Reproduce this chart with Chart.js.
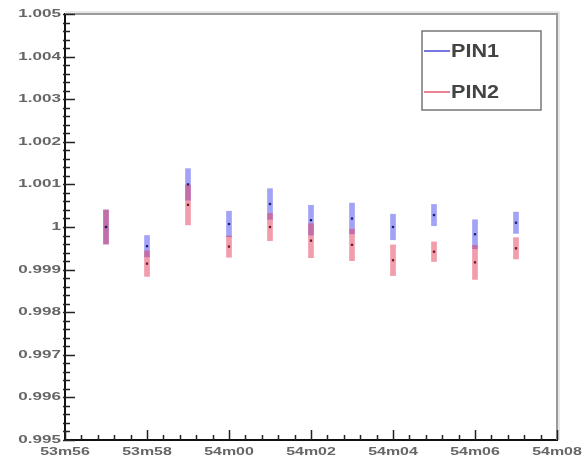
<!DOCTYPE html>
<html>
<head>
<meta charset="utf-8">
<script src="https://cdn.jsdelivr.net/npm/chart.js@4.4.0/dist/chart.umd.min.js"></script>
<style>
html, body { margin: 0; padding: 0; background: #fff; }
#wrap { width: 584px; height: 463px; }
</style>
</head>
<body>
<div id="wrap"><canvas id="myChart" width="584" height="463"></canvas></div>
<script>
'use strict';

// time axis in seconds counted from 53m00
let seconds = [57, 58, 59, 60, 61, 62, 63, 64, 65, 66, 67];
let pin1 = [1.0000, 0.99955, 1.0010, 1.00007, 1.00054, 1.00016, 1.0002, 1.0000, 1.00028, 0.99983, 1.0001];
let pin1Err = [0.0004, 0.00025, 0.00037, 0.0003, 0.00036, 0.00035, 0.00036, 0.0003, 0.00025, 0.00034, 0.00025];
let pin2 = [1.0000, 0.99914, 1.00052, 0.99954, 1.0000, 0.99968, 0.99958, 0.99922, 0.99942, 0.99917, 0.9995];
let pin2Err = [0.0004, 0.0003, 0.00047, 0.00025, 0.00032, 0.0004, 0.00037, 0.00036, 0.00023, 0.0004, 0.00025];
let yTicks = [0.995, 0.996, 0.997, 0.998, 0.999, 1, 1.001, 1.002, 1.003, 1.004, 1.005];
let yTickLabels = ['0.995', '0.996', '0.997', '0.998', '0.999', '1', '1.001', '1.002', '1.003', '1.004', '1.005'];
let xTicks = [56, 58, 60, 62, 64, 66, 68];
let seriesNames = ['PIN1', 'PIN2'];

function timeLabel(s) {
    let m = 53 + Math.floor(s / 60);
    let sec = s % 60;
    return m + 'm' + (sec < 10 ? '0' + sec : sec);
}

function errBars(vals, errs) {
    return seconds.map((s, i) => ({ x: s, y: [vals[i] - errs[i], vals[i] + errs[i]] }));
}
function centers(vals) {
    return seconds.map((s, i) => ({ x: s, y: vals[i] }));
}

// stretched text, the reference labels are wide and flat
function wideText(ctx, txt, x, y, sx, align) {
    ctx.save();
    ctx.translate(x, y);
    ctx.scale(sx, 1);
    ctx.textAlign = align;
    ctx.fillText(txt, 0, 0);
    ctx.restore();
}

const rootFrame = {
    id: 'rootFrame',
    afterDraw(chart) {
        let ctx = chart.ctx;
        let a = chart.chartArea;
        let xs = chart.scales.x;
        let ys = chart.scales.y;
        ctx.save();

        // grey top / right frame
        ctx.strokeStyle = '#9a9a9a';
        ctx.lineWidth = 2;
        ctx.beginPath();
        ctx.moveTo(a.left, a.top);
        ctx.lineTo(a.right, a.top);
        ctx.lineTo(a.right, a.bottom);
        ctx.stroke();
        ctx.strokeStyle = '#d0d0d0';
        ctx.lineWidth = 1;
        ctx.beginPath();
        ctx.moveTo(a.left, a.top - 2);
        ctx.lineTo(a.right + 2, a.top - 2);
        ctx.lineTo(a.right + 2, a.bottom);
        ctx.stroke();

        // inward ticks
        ctx.strokeStyle = '#222';
        ctx.lineWidth = 1.5;
        ctx.beginPath();
        for (let v = ys.min; v <= ys.max + 1e-9; v += 0.0002) {
            let p = Math.round(ys.getPixelForValue(v)) + 0.5;
            let major = Math.abs(Math.round(v * 1000) - v * 1000) < 1e-6;
            ctx.moveTo(a.left - 2, p);
            ctx.lineTo(a.left + (major ? 10 : 5), p);
        }
        for (let v = xs.min; v <= xs.max + 1e-9; v += 0.4) {
            let p = Math.round(xs.getPixelForValue(v)) + 0.5;
            let major = Math.abs(Math.round(v / 2) * 2 - v) < 1e-6;
            ctx.moveTo(p, a.bottom);
            ctx.lineTo(p, a.bottom - (major ? 10 : 5));
        }
        ctx.stroke();

        // tick labels
        ctx.fillStyle = '#666';
        ctx.font = 'bold 11px "Liberation Sans", Arial, sans-serif';
        ctx.textBaseline = 'middle';
        yTicks.forEach((v, i) => {
            wideText(ctx, yTickLabels[i], a.left - 4, ys.getPixelForValue(v), 1.55, 'right');
        });
        ctx.textBaseline = 'top';
        xTicks.forEach(v => {
            wideText(ctx, timeLabel(v), xs.getPixelForValue(v), a.bottom + 6, 1.45, 'center');
        });

        // legend box
        let bx = 422, by = 31, bw = 119, bh = 79;
        ctx.fillStyle = '#fff';
        ctx.fillRect(bx, by, bw, bh);
        ctx.strokeStyle = '#777';
        ctx.lineWidth = 1.5;
        ctx.strokeRect(bx, by, bw, bh);
        let ds = chart.data.datasets;
        [0, 1].forEach(k => {
            let ly = by + 20 + k * 41;
            ctx.strokeStyle = ds[k].borderColor;
            ctx.lineWidth = 1.5;
            ctx.beginPath();
            ctx.moveTo(bx + 2, ly);
            ctx.lineTo(bx + 28, ly);
            ctx.stroke();
            ctx.fillStyle = '#444';
            ctx.font = 'bold 18px "Liberation Sans", Arial, sans-serif';
            ctx.textBaseline = 'middle';
            wideText(ctx, seriesNames[k], bx + 29, ly + 1, 1.2, 'left');
        });
        ctx.restore();
    }
};

let ctx = document.getElementById('myChart').getContext('2d');
new Chart(ctx, {
    type: 'bar',
    data: {
        datasets: [{
            label: seriesNames[0],
            data: errBars(pin1, pin1Err),
            backgroundColor: 'rgba(85, 85, 240, 0.55)',
            borderColor: '#4a4ad8',
            borderWidth: 0,
            barThickness: 5,
            grouped: false,
            order: 2
        },
        {
            label: seriesNames[1],
            data: errBars(pin2, pin2Err),
            backgroundColor: 'rgba(228, 60, 90, 0.5)',
            borderColor: '#e05a6a',
            borderWidth: 0,
            barThickness: 5,
            grouped: false,
            order: 1
        },
        {
            type: 'line',
            label: 'PIN1 value',
            data: centers(pin1),
            showLine: false,
            pointStyle: 'rect',
            pointRadius: 1.6,
            backgroundColor: '#1c1c70',
            borderColor: '#1c1c70',
            borderWidth: 0,
            order: 0
        },
        {
            type: 'line',
            label: 'PIN2 value',
            data: centers(pin2),
            showLine: false,
            pointStyle: 'rect',
            pointRadius: 1.6,
            backgroundColor: '#6a1c22',
            borderColor: '#6a1c22',
            borderWidth: 0,
            order: 0
        }]
    },
    options: {
        responsive: false,
        animation: false,
        layout: { padding: { left: 0, right: 27, top: 14, bottom: 0 } },
        plugins: { legend: { display: false }, tooltip: { enabled: false } },
        scales: {
            x: {
                type: 'linear',
                min: 56,
                max: 68,
                offset: false,
                grid: { display: false },
                border: { display: true, color: '#111', width: 2 },
                ticks: { display: false },
                afterFit: s => { s.height = 23; }
            },
            y: {
                min: 0.995,
                max: 1.005,
                grid: { display: false },
                border: { display: true, color: '#111', width: 2 },
                ticks: { display: false },
                afterFit: s => { s.width = 65; }
            }
        }
    },
    plugins: [rootFrame]
});
</script>
</body>
</html>
